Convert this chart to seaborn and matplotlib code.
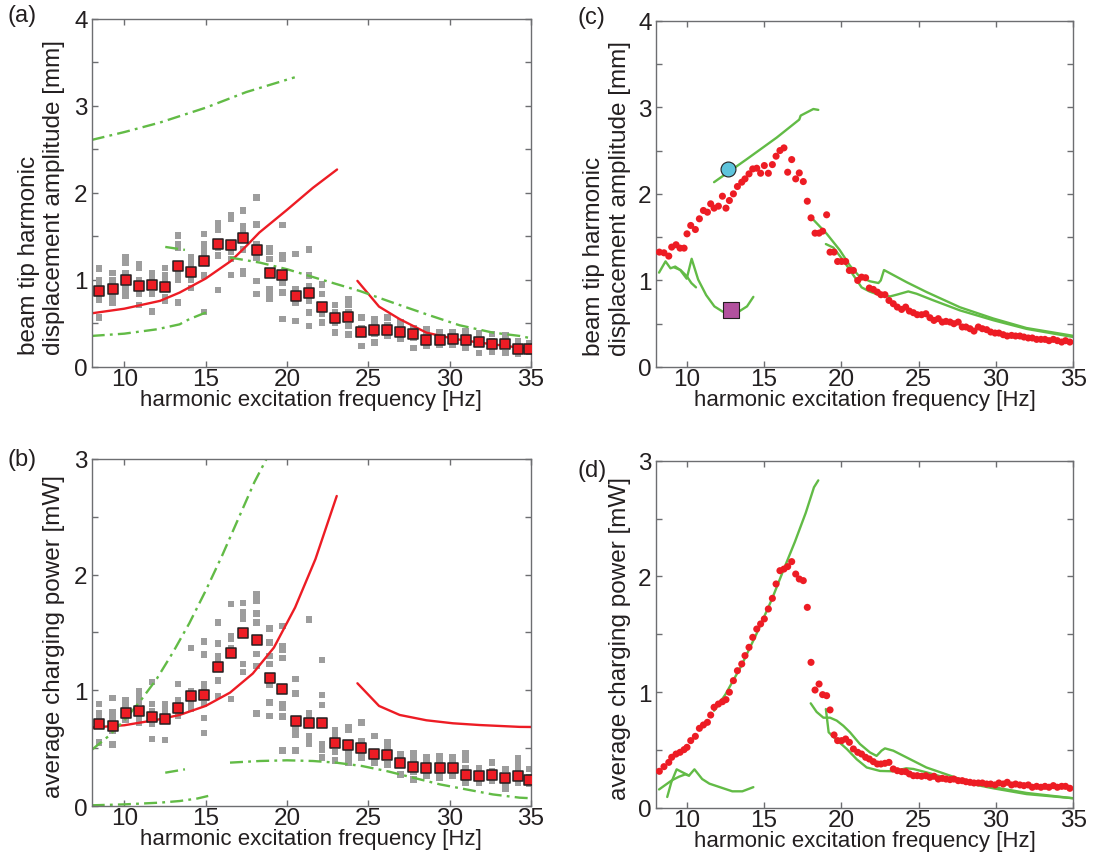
import matplotlib
matplotlib.use("Agg")
import matplotlib.pyplot as plt
from matplotlib.ticker import MultipleLocator
import pandas as pd
import seaborn as sns


OUTPUT_PATH = "out.png"

RED = "#ed1c24"
GREEN = "#62bb46"
GRAY = "#9d9d9d"
EDGE = "#231f20"
SPINE = "#6d6e71"

X_LABEL = "harmonic excitation frequency [Hz]"
DISP_LABEL = "beam tip harmonic\ndisplacement amplitude [mm]"
POWER_LABEL = "average charging power [mW]"

# ---- panels (a) / (b): measured squares ------------------------------------
FREQ_SQ = [8.46, 9.28, 10.08, 10.9, 11.7, 12.5, 13.3, 14.1, 14.9, 15.75, 16.57,
           17.3, 18.13, 18.93, 19.72, 20.54, 21.34, 22.16, 22.96, 23.78, 24.58,
           25.37, 26.17, 26.97, 27.77, 28.57, 29.39, 30.18, 30.98, 31.8, 32.6,
           33.42, 34.2, 34.9]

DISP_MEAN = [0.874, 0.897, 1.0, 0.93, 0.943, 0.924, 1.166, 1.093, 1.219, 1.419,
             1.407, 1.48, 1.342, 1.085, 1.062, 0.82, 0.851, 0.69, 0.56, 0.571,
             0.406, 0.43, 0.43, 0.399, 0.376, 0.314, 0.314, 0.326, 0.314, 0.291,
             0.268, 0.268, 0.21, 0.21]

POWER_MEAN = [0.712, 0.695, 0.8, 0.822, 0.773, 0.756, 0.851, 0.955, 0.963, 1.2,
              1.321, 1.497, 1.433, 1.105, 1.01, 0.735, 0.718, 0.718, 0.542, 0.528,
              0.499, 0.447, 0.438, 0.369, 0.34, 0.332, 0.332, 0.332, 0.271, 0.262,
              0.271, 0.245, 0.26, 0.222]

GRAY_DISP = [
    [1.13, 1.0, 0.95, 0.9, 0.82, 0.77, 0.57],
    [1.08, 1.0, 0.93, 0.85, 0.78, 0.74],
    [1.26, 1.2, 1.08, 1.0, 0.92, 0.86, 0.82],
    [1.18, 1.14, 1.0, 0.84, 0.71],
    [1.08, 1.04, 0.99, 0.84, 0.64],
    [1.14, 1.05, 0.98, 0.8, 0.76],
    [1.51, 1.41, 1.37, 1.12, 1.05, 1.0, 0.74],
    [1.26, 1.2, 1.15, 1.0, 0.91],
    [1.53, 1.41, 1.37, 1.32, 1.28, 1.05, 0.63],
    [1.65, 1.58, 1.37, 1.28, 0.885],
    [1.745, 1.70, 1.32, 1.24, 1.06],
    [1.8, 1.62, 1.58, 1.35, 1.1, 1.07],
    [1.95, 1.64, 1.41, 1.26, 0.99, 0.84],
    [1.37, 1.33, 1.24, 0.89, 0.85, 0.78],
    [1.63, 1.28, 1.24, 0.97, 0.855, 0.55],
    [1.3, 0.89, 0.78, 0.74, 0.53],
    [1.35, 1.05, 0.93, 0.76, 0.625, 0.47],
    [0.95, 0.84, 0.7, 0.61, 0.51],
    [0.71, 0.625, 0.51, 0.395],
    [0.78, 0.72, 0.625, 0.47, 0.376],
    [0.57, 0.45, 0.395, 0.24],
    [0.55, 0.49, 0.38, 0.28],
    [0.57, 0.48, 0.36],
    [0.51, 0.45, 0.32],
    [0.45, 0.34, 0.22],
    [0.43, 0.36, 0.24],
    [0.4, 0.36, 0.26],
    [0.4, 0.36, 0.26],
    [0.41, 0.35, 0.22],
    [0.39, 0.33, 0.16],
    [0.38, 0.3, 0.17],
    [0.36, 0.3, 0.16],
    [0.3, 0.25, 0.15],
    [0.27, 0.2, 0.17],
]

GRAY_POWER = [
    [0.88, 0.8, 0.76, 0.74, 0.55],
    [0.935, 0.81, 0.78, 0.72, 0.65, 0.53],
    [0.917, 0.88, 0.84, 0.78, 0.75],
    [0.995, 0.95, 0.9, 0.78, 0.72],
    [1.07, 0.88, 0.82, 0.71, 0.58],
    [0.88, 0.85, 0.81, 0.57],
    [1.053, 0.91, 0.82, 0.78],
    [1.364, 0.995, 0.92, 0.87, 0.84],
    [1.42, 1.31, 1.05, 1.02, 0.88, 0.76, 0.63],
    [1.586, 1.405, 1.298, 1.27, 1.087, 0.952],
    [1.745, 1.47, 1.45, 1.36, 0.923],
    [1.754, 1.673, 1.645, 1.615, 1.226, 1.16],
    [1.83, 1.8, 1.774, 1.664, 1.586, 1.312, 1.21, 0.8],
    [1.534, 1.413, 1.298, 1.226, 1.05, 0.894, 0.779],
    [1.558, 1.385, 1.355, 1.278, 0.88, 0.85, 0.773, 0.482],
    [1.096, 0.972, 0.66, 0.62, 0.482],
    [1.612, 0.8, 0.779, 0.6, 0.562, 0.534],
    [1.263, 0.96, 0.874, 0.534, 0.49, 0.418],
    [0.655, 0.62, 0.562, 0.467, 0.395],
    [0.684, 0.66, 0.46, 0.418, 0.375],
    [0.721, 0.562, 0.45, 0.418],
    [0.606, 0.4, 0.375],
    [0.548, 0.49, 0.36],
    [0.447, 0.4, 0.274],
    [0.46, 0.418, 0.36, 0.3, 0.23],
    [0.418, 0.38, 0.3, 0.26],
    [0.433, 0.38, 0.3, 0.245],
    [0.418, 0.37, 0.3, 0.26],
    [0.46, 0.4, 0.33, 0.26, 0.2],
    [0.33, 0.28, 0.24, 0.2],
    [0.375, 0.3, 0.25, 0.216],
    [0.32, 0.26, 0.2, 0.15],
    [0.41, 0.36, 0.32, 0.26, 0.2],
    [0.32, 0.25, 0.19],
]

# model curves, panel (a)
RED_A1_F = [8, 10, 12.2, 13.4, 15, 16.57, 17.5, 18.3, 20, 21.6, 23.08]
RED_A1_Y = [0.617, 0.67, 0.76, 0.855, 1.016, 1.22, 1.39, 1.545, 1.806, 2.06, 2.27]
RED_A2_F = [24.33, 25.66, 26.93, 28.57, 30.2, 31.84, 34.3, 35]
RED_A2_Y = [0.99, 0.694, 0.55, 0.395, 0.326, 0.28, 0.222, 0.205]
GRN_A_UP_F = [8, 10, 12.2, 15, 17.5, 20.48]
GRN_A_UP_Y = [2.61, 2.70, 2.81, 2.98, 3.16, 3.33]
GRN_A_LOW_F = [8, 10, 12, 13.4, 14, 15, 15.22]
GRN_A_LOW_Y = [0.357, 0.383, 0.433, 0.49, 0.55, 0.625, 0.663]
GRN_A_MID1_F = [12.52, 13.73]
GRN_A_MID1_Y = [1.38, 1.346]
GRN_A_MID2_F = [16.5, 18.33, 20, 22.2, 24.47, 26.5, 28.57, 30.6, 32.66, 34.3, 35]
GRN_A_MID2_Y = [1.258, 1.2, 1.124, 1.0, 0.874, 0.74, 0.606, 0.48, 0.395, 0.357, 0.33]

# model curves, panel (b)
RED_B1_F = [8, 10, 12, 13.4, 15, 16.5, 17.9, 19.2, 20.5, 21.75, 23.06]
RED_B1_Y = [0.678, 0.698, 0.745, 0.787, 0.865, 0.98, 1.145, 1.37, 1.716, 2.134, 2.68]
RED_B2_F = [24.33, 25.66, 26.93, 28.57, 30.2, 31.84, 34.3, 35]
RED_B2_Y = [1.061, 0.865, 0.787, 0.741, 0.715, 0.7, 0.684, 0.683]
GRN_B_UP_F = [8, 9, 10, 11, 12, 13, 14, 15, 16, 17, 18, 18.74]
GRN_B_UP_Y = [0.485, 0.6, 0.74, 0.91, 1.1, 1.33, 1.58, 1.86, 2.16, 2.48, 2.8, 3.0]
GRN_B_LOW_F = [8, 10, 12.2, 13.4, 14.5, 15.16]
GRN_B_LOW_Y = [0.006, 0.014, 0.029, 0.043, 0.065, 0.087]
GRN_B_MID1_F = [12.52, 13.73]
GRN_B_MID1_Y = [0.288, 0.317]
GRN_B_MID2_F = [16.5, 18.33, 20, 21.6, 23, 24.6, 26.1, 27.75, 29.4, 31, 32.66, 34.3, 35]
GRN_B_MID2_Y = [0.375, 0.389, 0.395, 0.389, 0.375, 0.346, 0.303, 0.245, 0.187,
                0.144, 0.1, 0.072, 0.067]

# ---- panels (c) / (d): frequency sweep dots ----------------------------------
FREQ_DOT = [8.23, 8.53, 8.84, 9.03, 9.31, 9.57, 9.83, 10.02, 10.26, 10.56, 10.82,
            11.08, 11.34, 11.55, 11.77, 12.05, 12.31, 12.54, 12.76, 13.02, 13.28,
            13.56, 13.77, 14.03, 14.27, 14.53, 14.78, 15.02, 15.28, 15.54, 15.78,
            16.03, 16.29, 16.53, 16.79, 17.05, 17.28, 17.54, 17.80, 18.04, 18.30,
            18.56, 18.79, 19.05, 19.27, 19.53, 19.76, 20.02, 20.28, 20.52, 20.78,
            21.06, 21.31, 21.57, 21.81, 22.07, 22.33, 22.56, 22.82, 23.08, 23.36,
            23.62, 23.90, 24.16, 24.40, 24.66, 24.91, 25.19, 25.47, 25.73, 25.99,
            26.27, 26.53, 26.77, 27.03, 27.28, 27.56, 27.82, 28.06, 28.32, 28.58,
            28.86, 29.12, 29.40, 29.66, 29.94, 30.19, 30.47, 30.73, 31.01, 31.27,
            31.55, 31.81, 32.09, 32.35, 32.63, 32.91, 33.17, 33.43, 33.71, 33.97,
            34.25, 34.50, 34.78]

DISP_DOT = [1.327, 1.319, 1.281, 1.385, 1.412, 1.373, 1.373, 1.538, 1.635, 1.588,
            1.712, 1.808, 1.788, 1.885, 1.835, 1.858, 1.973, 1.835, 1.923, 2.0,
            2.085, 2.135, 2.173, 2.231, 2.288, 2.296, 2.238, 2.327, 2.238, 2.338,
            2.435, 2.5, 2.531, 2.25, 2.396, 2.173, 2.242, 2.142, 1.915, 1.723,
            1.546, 1.546, 1.569, 1.758, 1.327, 1.327, 1.219, 1.219, 1.219, 1.115,
            1.115, 1.0, 1.038, 1.031, 0.912, 0.896, 0.865, 0.835, 0.835, 0.769,
            0.731, 0.692, 0.665, 0.692, 0.646, 0.627, 0.604, 0.604, 0.615, 0.569,
            0.538, 0.558, 0.519, 0.527, 0.519, 0.5, 0.519, 0.462, 0.462, 0.442,
            0.415, 0.462, 0.442, 0.431, 0.404, 0.392, 0.392, 0.373, 0.358, 0.365,
            0.358, 0.358, 0.346, 0.335, 0.335, 0.319, 0.319, 0.319, 0.304, 0.319,
            0.304, 0.288, 0.304, 0.288]

POWER_DOT = [0.317, 0.357, 0.394, 0.438, 0.466, 0.481, 0.504, 0.524, 0.582, 0.619,
             0.688, 0.717, 0.74, 0.803, 0.87, 0.898, 0.918, 0.936, 1.0, 1.1,
             1.186, 1.244, 1.316, 1.388, 1.474, 1.546, 1.59, 1.633, 1.719, 1.811,
             1.935, 2.05, 2.064, 2.085, 2.128, 2.021, 1.978, 1.964, 1.733, 1.258,
             1.019, 1.071, 0.979, 0.97, 0.847, 0.631, 0.582, 0.582, 0.596, 0.567,
             0.51, 0.481, 0.466, 0.438, 0.423, 0.4, 0.38, 0.38, 0.386, 0.394,
             0.337, 0.322, 0.314, 0.314, 0.294, 0.279, 0.279, 0.274, 0.279, 0.265,
             0.274, 0.25, 0.256, 0.25, 0.245, 0.25, 0.236, 0.236, 0.227, 0.222,
             0.216, 0.216, 0.216, 0.207, 0.207, 0.199, 0.216, 0.207, 0.222, 0.199,
             0.207, 0.199, 0.193, 0.199, 0.179, 0.187, 0.179, 0.187, 0.179, 0.193,
             0.179, 0.187, 0.187, 0.17]

# simulated branches, panel (c)
GRN_C_UP_F = [11.77, 13.88, 15.82, 17.28, 17.37, 18.19, 18.51]
GRN_C_UP_Y = [2.135, 2.40, 2.65, 2.858, 2.904, 2.98, 2.97]
GRN_C_LA_F = [8.21, 8.63, 8.95, 9.26, 9.58, 10.0, 10.32, 10.74, 11.26, 11.79,
              12.32, 12.84, 13.37, 13.9, 14.31]
GRN_C_LA_Y = [1.09, 1.22, 1.14, 1.16, 1.12, 1.02, 1.25, 1.01, 0.83, 0.70,
              0.64, 0.62, 0.64, 0.70, 0.81]
GRN_C_LB_F = [9.2, 9.6, 10.0, 10.3, 10.6]
GRN_C_LB_Y = [1.15, 1.12, 1.05, 0.97, 0.92]
GRN_C_R1_F = [18.04, 19.05, 19.9, 20.56, 21.2, 21.85, 22.4, 22.55, 22.76, 24.22,
              25.52, 27.67, 29.83, 31.98, 35]
GRN_C_R1_Y = [1.73, 1.54, 1.35, 1.17, 1.04, 0.99, 0.97, 1.0, 1.12, 0.98,
              0.865, 0.69, 0.56, 0.45, 0.36]
GRN_C_R2_F = [19.0, 19.48, 20.13, 20.78, 21.31, 21.85, 22.5, 23.15, 23.58, 24.33,
              24.87, 25.95, 27.67, 29.83, 31.98, 35]
GRN_C_R2_Y = [1.42, 1.38, 1.23, 1.06, 0.92, 0.87, 0.83, 0.815, 0.835, 0.873,
              0.846, 0.77, 0.654, 0.54, 0.44, 0.346]

# simulated branches, panel (d)
GRN_D_UP_F = [11.77, 12.5, 13.5, 14.5, 15.5, 16.3, 17.0, 17.7, 18.23, 18.51]
GRN_D_UP_Y = [0.84, 0.98, 1.22, 1.5, 1.8, 2.07, 2.3, 2.55, 2.77, 2.83]
GRN_D_L1_F = [8.21, 9.05, 9.5, 9.9, 10.15, 10.5, 11.0, 11.47, 12.3, 12.95, 13.6, 14.31]
GRN_D_L1_Y = [0.16, 0.24, 0.27, 0.29, 0.28, 0.334, 0.25, 0.21, 0.173, 0.144, 0.144, 0.18]
GRN_D_L2_F = [8.74, 9.0, 9.35, 9.7, 10.15]
GRN_D_L2_Y = [0.095, 0.22, 0.334, 0.31, 0.28]
GRN_D_R1_F = [18.02, 18.4, 18.84, 19.27, 19.7, 20.13, 20.56, 21.2, 21.85, 22.28,
              22.6, 22.82, 23.36, 25.5, 27.67, 29.83, 31.98, 35]
GRN_D_R1_Y = [0.904, 0.83, 0.78, 0.78, 0.755, 0.71, 0.654, 0.553, 0.48, 0.45,
              0.495, 0.515, 0.495, 0.35, 0.25, 0.18, 0.13, 0.084]
GRN_D_R2_F = [19.0, 19.18, 19.6, 20.35, 21.0, 21.64, 22.5, 23.36, 24.2, 24.66,
              25.5, 27.67, 29.83, 31.98, 35]
GRN_D_R2_Y = [0.855, 0.654, 0.6, 0.51, 0.42, 0.35, 0.32, 0.317, 0.343, 0.337,
              0.308, 0.227, 0.17, 0.12, 0.084]

# highlighted operating points in (c)
CIRCLE_PT = (12.69, 2.29)
SQUARE_PT = (12.84, 0.654)

DASHDOT = (0, (5.5, 2.2, 1.2, 2.2))


def configure_style() -> None:
    sns.set_theme(style="ticks")
    plt.rcParams["font.family"] = ["Liberation Sans", "DejaVu Sans"]
    plt.rcParams["axes.edgecolor"] = SPINE
    plt.rcParams["axes.linewidth"] = 1.0
    plt.rcParams["xtick.color"] = SPINE
    plt.rcParams["ytick.color"] = SPINE
    plt.rcParams["xtick.labelcolor"] = EDGE
    plt.rcParams["ytick.labelcolor"] = EDGE


def gray_frame(freqs, stacks) -> pd.DataFrame:
    rows = [(f, v) for f, col in zip(freqs, stacks) for v in col]
    return pd.DataFrame(rows, columns=["freq", "value"])


def draw_line(ax, x, y, color, style="-"):
    sns.lineplot(x=x, y=y, sort=False, estimator=None, color=color,
                 linewidth=1.7, linestyle=style, ax=ax, zorder=2)


def format_axes(ax, ymax, ylabel, letter, letter_xy, fig):
    ax.set_xlim(8, 35)
    ax.set_ylim(0, ymax)
    ax.xaxis.set_major_locator(MultipleLocator(5))
    ax.yaxis.set_major_locator(MultipleLocator(1))
    ax.yaxis.set_minor_locator(MultipleLocator(0.5))
    ax.tick_params(which="both", direction="in", top=True, right=True, length=4,
                   width=1.0, labelsize=17.5)
    ax.tick_params(axis="x", pad=1.0)
    ax.tick_params(axis="y", pad=3.0)
    ax.set_xlabel(X_LABEL, fontsize=16, labelpad=-1, color=EDGE)
    ax.set_ylabel(ylabel, fontsize=17.5, color=EDGE, multialignment="left")
    ax.yaxis.set_label_coords(-0.06, 0.49)
    for spine in ax.spines.values():
        spine.set_visible(True)
    fig.text(letter_xy[0], letter_xy[1], letter, fontsize=17, color=EDGE,
             ha="left", va="center")


def draw_figure() -> None:
    fig = plt.figure(figsize=(11.13, 8.62), dpi=100)
    ax_a = fig.add_axes([0.0824, 0.5731, 0.3947, 0.4037])
    ax_b = fig.add_axes([0.0824, 0.0638, 0.3947, 0.4026])
    ax_c = fig.add_axes([0.5892, 0.5731, 0.3751, 0.4017])
    ax_d = fig.add_axes([0.5892, 0.0615, 0.3751, 0.4029])

    # (a) displacement, experiment squares + model
    gray_a = gray_frame(FREQ_SQ, GRAY_DISP)
    sns.scatterplot(data=gray_a, x="freq", y="value", marker="s", s=22,
                    color=GRAY, edgecolor="none", ax=ax_a, zorder=1.5)
    draw_line(ax_a, RED_A1_F, RED_A1_Y, RED)
    draw_line(ax_a, RED_A2_F, RED_A2_Y, RED)
    for fx, fy in [(GRN_A_UP_F, GRN_A_UP_Y), (GRN_A_LOW_F, GRN_A_LOW_Y),
                   (GRN_A_MID1_F, GRN_A_MID1_Y), (GRN_A_MID2_F, GRN_A_MID2_Y)]:
        draw_line(ax_a, fx, fy, GREEN, DASHDOT)
    sns.scatterplot(x=FREQ_SQ, y=DISP_MEAN, marker="s", s=50, color=RED,
                    edgecolor=EDGE, linewidth=1.1, ax=ax_a, zorder=3)

    # (b) power, experiment squares + model
    gray_b = gray_frame(FREQ_SQ, GRAY_POWER)
    sns.scatterplot(data=gray_b, x="freq", y="value", marker="s", s=22,
                    color=GRAY, edgecolor="none", ax=ax_b, zorder=1.5)
    draw_line(ax_b, RED_B1_F, RED_B1_Y, RED)
    draw_line(ax_b, RED_B2_F, RED_B2_Y, RED)
    for fx, fy in [(GRN_B_UP_F, GRN_B_UP_Y), (GRN_B_LOW_F, GRN_B_LOW_Y),
                   (GRN_B_MID1_F, GRN_B_MID1_Y), (GRN_B_MID2_F, GRN_B_MID2_Y)]:
        draw_line(ax_b, fx, fy, GREEN, DASHDOT)
    sns.scatterplot(x=FREQ_SQ, y=POWER_MEAN, marker="s", s=50, color=RED,
                    edgecolor=EDGE, linewidth=1.1, ax=ax_b, zorder=3)

    # (c) displacement sweep
    for fx, fy in [(GRN_C_UP_F, GRN_C_UP_Y), (GRN_C_LA_F, GRN_C_LA_Y),
                   (GRN_C_LB_F, GRN_C_LB_Y), (GRN_C_R1_F, GRN_C_R1_Y),
                   (GRN_C_R2_F, GRN_C_R2_Y)]:
        draw_line(ax_c, fx, fy, GREEN)
    sns.scatterplot(x=FREQ_DOT, y=DISP_DOT, marker="o", s=26, color=RED,
                    edgecolor="none", ax=ax_c, zorder=3)
    sns.scatterplot(x=[CIRCLE_PT[0]], y=[CIRCLE_PT[1]], marker="o", s=115,
                    color="#5ec4dc", edgecolor=EDGE, linewidth=0.8, ax=ax_c, zorder=4)
    sns.scatterplot(x=[SQUARE_PT[0]], y=[SQUARE_PT[1]], marker="s", s=125,
                    color="#b2519e", edgecolor=EDGE, linewidth=0.8, ax=ax_c, zorder=4)

    # (d) power sweep
    for fx, fy in [(GRN_D_UP_F, GRN_D_UP_Y), (GRN_D_L1_F, GRN_D_L1_Y),
                   (GRN_D_L2_F, GRN_D_L2_Y), (GRN_D_R1_F, GRN_D_R1_Y),
                   (GRN_D_R2_F, GRN_D_R2_Y)]:
        draw_line(ax_d, fx, fy, GREEN)
    sns.scatterplot(x=FREQ_DOT, y=POWER_DOT, marker="o", s=26, color=RED,
                    edgecolor="none", ax=ax_d, zorder=3)

    format_axes(ax_a, 4, DISP_LABEL, "(a)", (0.007, 0.981), fig)
    format_axes(ax_b, 3, POWER_LABEL, "(b)", (0.007, 0.466), fig)
    format_axes(ax_c, 4, DISP_LABEL, "(c)", (0.519, 0.979), fig)
    format_axes(ax_d, 3, POWER_LABEL, "(d)", (0.519, 0.454), fig)

    fig.savefig(OUTPUT_PATH, dpi=100)
    plt.close(fig)


def main() -> None:
    configure_style()
    draw_figure()


if __name__ == "__main__":
    main()
